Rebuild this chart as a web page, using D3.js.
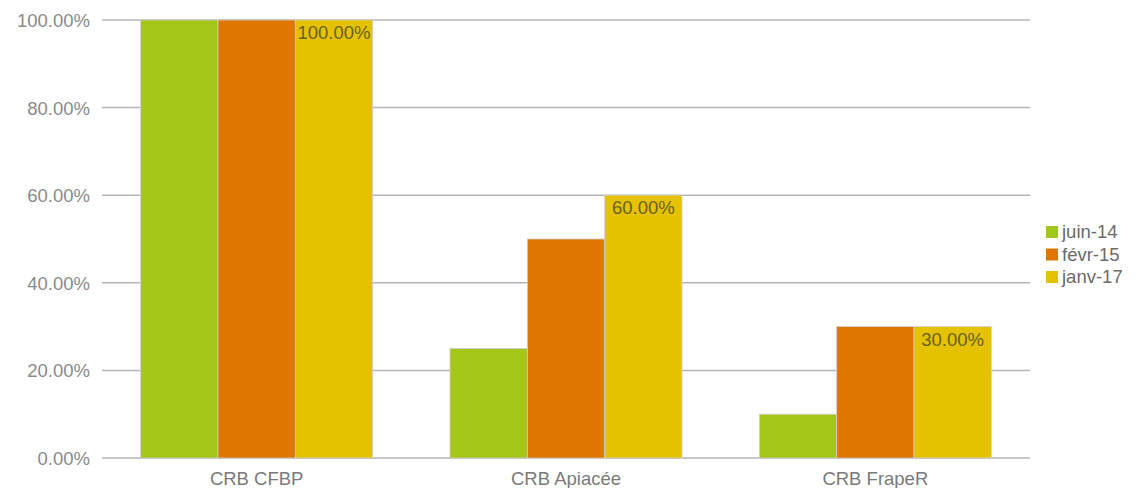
<!DOCTYPE html>
<html><head><meta charset="utf-8">
<script src="https://cdn.jsdelivr.net/npm/d3@7"></script>
<style>body{margin:0;background:#fff;}svg{display:block;font-family:"Liberation Sans",Arial,sans-serif;}</style>
</head><body>
<svg id="c" width="1136" height="488"></svg>
<script>
const categories = ["CRB CFBP", "CRB Apiacée", "CRB FrapeR"];
const seriesNames = ["juin-14", "févr-15", "janv-17"];
const juin14 = [100, 25, 10];
const fevr15 = [100, 50, 30];
const janv17 = [100, 60, 30];
const seriesValues = [juin14, fevr15, janv17];
const colors = ["#a4c619", "#df7600", "#e4c200"];
const yTicks = [0, 20, 40, 60, 80, 100];

const svg = d3.select("#c");
const m = {left: 102, right: 1030, top: 20, bottom: 458};
const x = d3.scaleBand().domain(categories).range([m.left, m.right]).paddingInner(0.25).paddingOuter(0.125);
const xs = d3.scaleBand().domain(seriesNames).range([0, x.bandwidth()]);
const y = d3.scaleLinear().domain([0, 100]).range([m.bottom, m.top]);
const fs = 18.5;

// gridlines
svg.append("g").selectAll("line").data(yTicks).join("line")
  .attr("x1", m.left).attr("x2", m.right)
  .attr("y1", d => y(d)).attr("y2", d => y(d))
  .attr("stroke", "#b5b5b5").attr("stroke-width", 1.5);

// y labels
svg.append("g").selectAll("text").data(yTicks).join("text")
  .attr("x", 90).attr("y", d => y(d) + 7)
  .attr("text-anchor", "end").attr("font-size", fs).attr("fill", "#8a8a8a")
  .text(d => d.toFixed(2) + "%");

// bars
const groups = svg.append("g").selectAll("g").data(seriesNames).join("g");
groups.each(function(s, si) {
  d3.select(this).selectAll("rect").data(seriesValues[si]).join("rect")
    .attr("x", (d, i) => x(categories[i]) + xs(s))
    .attr("width", xs.bandwidth())
    .attr("y", d => y(d))
    .attr("height", d => y(0) - y(d))
    .attr("fill", colors[si])
    .attr("stroke", "#d0d0d0").attr("stroke-width", 0.8);
});

// value labels on last series
svg.append("g").selectAll("text").data(janv17).join("text")
  .attr("x", (d, i) => x(categories[i]) + xs(seriesNames[2]) + xs.bandwidth() / 2)
  .attr("y", d => y(d) + 19)
  .attr("text-anchor", "middle").attr("font-size", fs).attr("fill", "#6b6020")
  .text(d => d.toFixed(2) + "%");

// x labels
svg.append("g").selectAll("text").data(categories).join("text")
  .attr("x", d => x(d) + x.bandwidth() / 2).attr("y", 485)
  .attr("text-anchor", "middle").attr("font-size", fs).attr("fill", "#7a7a7a")
  .text(d => d);

// legend
const lg = svg.append("g").selectAll("g").data(seriesNames).join("g")
  .attr("transform", (d, i) => `translate(1046,${226 + i * 22.5})`);
lg.append("rect").attr("width", 12).attr("height", 12).attr("fill", (d, i) => colors[i]);
lg.append("text").attr("x", 16).attr("y", 12).attr("font-size", fs).attr("fill", "#6a6a6a").text(d => d);
</script>
</body></html>
